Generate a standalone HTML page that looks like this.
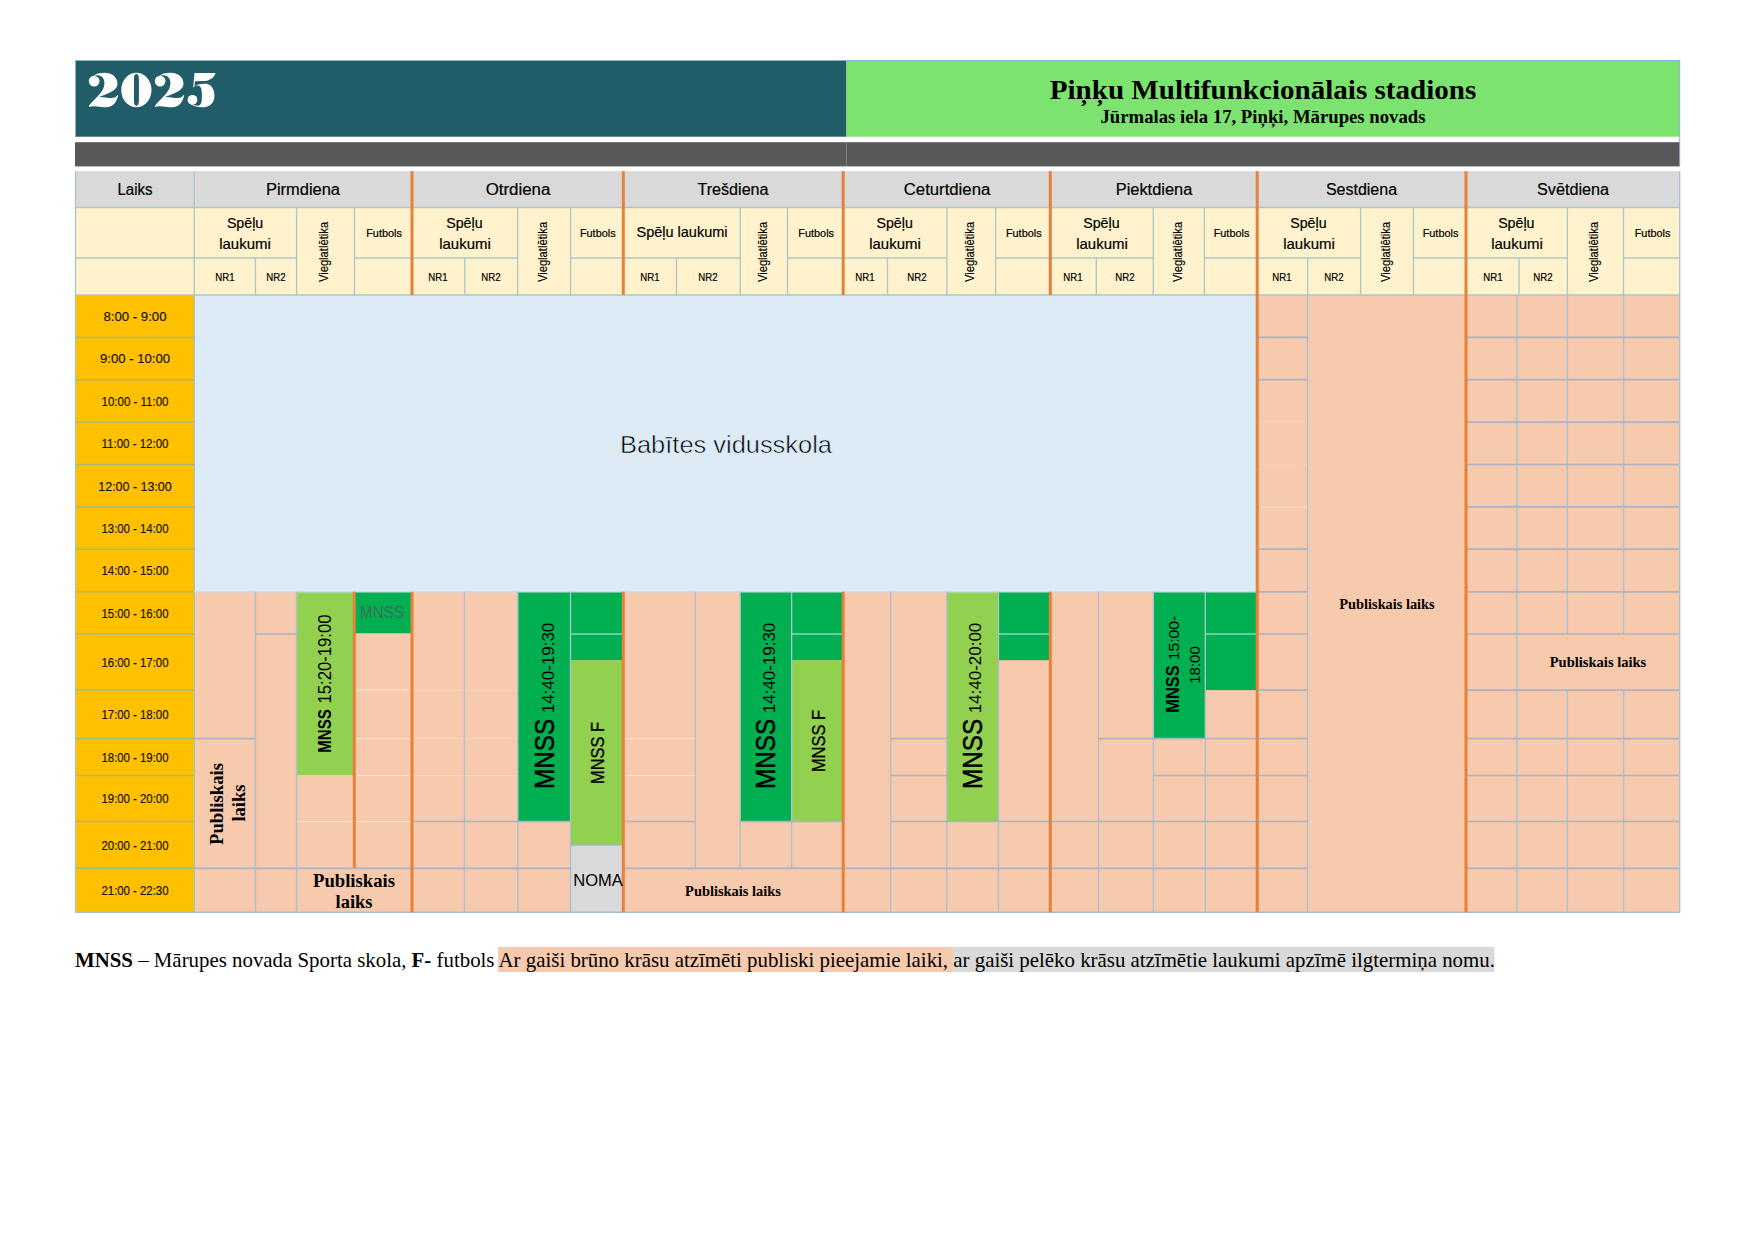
<!DOCTYPE html>
<html lang="lv"><head><meta charset="utf-8"><title>Piņķu Multifunkcionālais stadions 2025</title>
<style>
html,body{margin:0;padding:0;background:#fff;}
body{width:1755px;height:1241px;position:relative;overflow:hidden;font-family:"Liberation Sans",sans-serif;color:#000;}
svg{position:absolute;left:0;top:0;}
.t{position:absolute;white-space:nowrap;line-height:1;transform-origin:50% 50%;}
.s{font-family:"Liberation Serif",serif;font-weight:bold;}
#foot{position:absolute;left:75.3px;top:947.5px;height:25px;line-height:25px;font-family:"Liberation Serif",serif;font-size:21px;white-space:nowrap;transform-origin:0 50%;}
#foot span{padding:0.7px 0;}
</style></head><body>
<svg width="1755" height="1241" viewBox="0 0 1755 1241">
<rect x="75" y="60.5" width="771.5" height="76.2" fill="#215C69"/>
<rect x="846.5" y="60.5" width="833.5" height="76.2" fill="#7CE370"/>
<rect x="75" y="142.2" width="1605" height="24.2" fill="#595959"/>
<rect x="75" y="171.2" width="1605" height="36.3" fill="#D9D9D9"/>
<rect x="75" y="207.5" width="1605" height="87.5" fill="#FFF2CC"/>
<rect x="75" y="295" width="119.3" height="617.2" fill="#FFC000"/>
<rect x="194.3" y="295" width="1062.7" height="296.8" fill="#DDEBF7"/>
<rect x="194.3" y="591.8" width="1062.7" height="320.4" fill="#F7C9AD"/>
<rect x="1257" y="295" width="423" height="617.2" fill="#F7C9AD"/>
<rect x="296.6" y="591.8" width="57.7" height="183.2" fill="#92D050"/>
<rect x="354.3" y="591.8" width="57.7" height="41.5" fill="#00B050"/>
<rect x="517.8" y="591.8" width="52.7" height="229.7" fill="#00B050"/>
<rect x="570.5" y="591.8" width="52.8" height="68.4" fill="#00B050"/>
<rect x="570.5" y="660.2" width="52.8" height="184.8" fill="#92D050"/>
<rect x="570.5" y="845" width="52.8" height="67.2" fill="#D9D9D9"/>
<rect x="740.2" y="591.8" width="51.4" height="229.7" fill="#00B050"/>
<rect x="791.6" y="591.8" width="51.6" height="68.4" fill="#00B050"/>
<rect x="791.6" y="660.2" width="51.6" height="161.3" fill="#92D050"/>
<rect x="946.8" y="591.8" width="51.7" height="229.7" fill="#92D050"/>
<rect x="998.5" y="591.8" width="51.8" height="68.4" fill="#00B050"/>
<rect x="1153.4" y="591.8" width="51.9" height="146.8" fill="#00B050"/>
<rect x="1205.3" y="591.8" width="51.7" height="98.3" fill="#00B050"/>
<line x1="846.5" y1="142.2" x2="846.5" y2="166" stroke="#7f7f7f" stroke-width="1"/>
<line x1="75" y1="207.5" x2="1680" y2="207.5" stroke="#ABC7C8" stroke-width="1.7"/>
<line x1="75" y1="295" x2="1680" y2="295" stroke="#ABC7C8" stroke-width="1.7"/>
<line x1="75" y1="258" x2="194.3" y2="258" stroke="#ABC7C8" stroke-width="1.7"/>
<line x1="194.3" y1="171.2" x2="194.3" y2="295" stroke="#ABC7C8" stroke-width="1.35"/>
<line x1="194.3" y1="258" x2="296.6" y2="258" stroke="#ABC7C8" stroke-width="1.7"/>
<line x1="354.5" y1="258" x2="412" y2="258" stroke="#ABC7C8" stroke-width="1.7"/>
<line x1="255.5" y1="258" x2="255.5" y2="295" stroke="#ABC7C8" stroke-width="1.35"/>
<line x1="296.6" y1="207.5" x2="296.6" y2="295" stroke="#ABC7C8" stroke-width="1.35"/>
<line x1="354.5" y1="207.5" x2="354.5" y2="295" stroke="#ABC7C8" stroke-width="1.35"/>
<line x1="412" y1="258" x2="517.6" y2="258" stroke="#ABC7C8" stroke-width="1.7"/>
<line x1="570.6" y1="258" x2="623.3" y2="258" stroke="#ABC7C8" stroke-width="1.7"/>
<line x1="464.8" y1="258" x2="464.8" y2="295" stroke="#ABC7C8" stroke-width="1.35"/>
<line x1="517.6" y1="207.5" x2="517.6" y2="295" stroke="#ABC7C8" stroke-width="1.35"/>
<line x1="570.6" y1="207.5" x2="570.6" y2="295" stroke="#ABC7C8" stroke-width="1.35"/>
<line x1="623.3" y1="258" x2="740.2" y2="258" stroke="#ABC7C8" stroke-width="1.7"/>
<line x1="787.5" y1="258" x2="843.2" y2="258" stroke="#ABC7C8" stroke-width="1.7"/>
<line x1="676.5" y1="258" x2="676.5" y2="295" stroke="#ABC7C8" stroke-width="1.35"/>
<line x1="740.2" y1="207.5" x2="740.2" y2="295" stroke="#ABC7C8" stroke-width="1.35"/>
<line x1="787.5" y1="207.5" x2="787.5" y2="295" stroke="#ABC7C8" stroke-width="1.35"/>
<line x1="843.2" y1="258" x2="946.9" y2="258" stroke="#ABC7C8" stroke-width="1.7"/>
<line x1="995.6" y1="258" x2="1050.3" y2="258" stroke="#ABC7C8" stroke-width="1.7"/>
<line x1="887.5" y1="258" x2="887.5" y2="295" stroke="#ABC7C8" stroke-width="1.35"/>
<line x1="946.9" y1="207.5" x2="946.9" y2="295" stroke="#ABC7C8" stroke-width="1.35"/>
<line x1="995.6" y1="207.5" x2="995.6" y2="295" stroke="#ABC7C8" stroke-width="1.35"/>
<line x1="1050.3" y1="258" x2="1153.3" y2="258" stroke="#ABC7C8" stroke-width="1.7"/>
<line x1="1204.4" y1="258" x2="1257" y2="258" stroke="#ABC7C8" stroke-width="1.7"/>
<line x1="1096.3" y1="258" x2="1096.3" y2="295" stroke="#ABC7C8" stroke-width="1.35"/>
<line x1="1153.3" y1="207.5" x2="1153.3" y2="295" stroke="#ABC7C8" stroke-width="1.35"/>
<line x1="1204.4" y1="207.5" x2="1204.4" y2="295" stroke="#ABC7C8" stroke-width="1.35"/>
<line x1="1257" y1="258" x2="1360.6" y2="258" stroke="#ABC7C8" stroke-width="1.7"/>
<line x1="1413.4" y1="258" x2="1466" y2="258" stroke="#ABC7C8" stroke-width="1.7"/>
<line x1="1307.6" y1="258" x2="1307.6" y2="295" stroke="#ABC7C8" stroke-width="1.35"/>
<line x1="1360.6" y1="207.5" x2="1360.6" y2="295" stroke="#ABC7C8" stroke-width="1.35"/>
<line x1="1413.4" y1="207.5" x2="1413.4" y2="295" stroke="#ABC7C8" stroke-width="1.35"/>
<line x1="1466" y1="258" x2="1567.4" y2="258" stroke="#ABC7C8" stroke-width="1.7"/>
<line x1="1623.5" y1="258" x2="1680" y2="258" stroke="#ABC7C8" stroke-width="1.7"/>
<line x1="1519" y1="258" x2="1519" y2="295" stroke="#ABC7C8" stroke-width="1.35"/>
<line x1="1567.4" y1="207.5" x2="1567.4" y2="295" stroke="#ABC7C8" stroke-width="1.35"/>
<line x1="1623.5" y1="207.5" x2="1623.5" y2="295" stroke="#ABC7C8" stroke-width="1.35"/>
<line x1="75" y1="337.4" x2="194.3" y2="337.4" stroke="#A6B880" stroke-width="1.5"/>
<line x1="75" y1="379.7" x2="194.3" y2="379.7" stroke="#A6B880" stroke-width="1.5"/>
<line x1="75" y1="422.1" x2="194.3" y2="422.1" stroke="#A6B880" stroke-width="1.5"/>
<line x1="75" y1="464.5" x2="194.3" y2="464.5" stroke="#A6B880" stroke-width="1.5"/>
<line x1="75" y1="506.9" x2="194.3" y2="506.9" stroke="#A6B880" stroke-width="1.5"/>
<line x1="75" y1="549.2" x2="194.3" y2="549.2" stroke="#A6B880" stroke-width="1.5"/>
<line x1="75" y1="591.8" x2="194.3" y2="591.8" stroke="#A6B880" stroke-width="1.5"/>
<line x1="75" y1="634" x2="194.3" y2="634" stroke="#A6B880" stroke-width="1.5"/>
<line x1="75" y1="690.1" x2="194.3" y2="690.1" stroke="#A6B880" stroke-width="1.5"/>
<line x1="75" y1="738.6" x2="194.3" y2="738.6" stroke="#A6B880" stroke-width="1.5"/>
<line x1="75" y1="775.5" x2="194.3" y2="775.5" stroke="#A6B880" stroke-width="1.5"/>
<line x1="75" y1="821.5" x2="194.3" y2="821.5" stroke="#A6B880" stroke-width="1.5"/>
<line x1="75" y1="868.3" x2="194.3" y2="868.3" stroke="#A6B880" stroke-width="1.5"/>
<line x1="194.3" y1="295" x2="194.3" y2="912.2" stroke="#A6C3AE" stroke-width="1.3"/>
<line x1="194.3" y1="591.8" x2="1257" y2="591.8" stroke="#C9DEF0" stroke-width="1.5"/>
<line x1="255.5" y1="591.8" x2="255.5" y2="912.2" stroke="#A9C1D3" stroke-width="1.35"/>
<line x1="296.6" y1="591.8" x2="296.6" y2="912.2" stroke="#A9C1D3" stroke-width="1.35"/>
<line x1="194.3" y1="738.6" x2="255.5" y2="738.6" stroke="#A9B4C8" stroke-width="1.7"/>
<line x1="255.5" y1="634" x2="296.6" y2="634" stroke="#A9B4C8" stroke-width="1.7"/>
<line x1="194.3" y1="868.3" x2="412" y2="868.3" stroke="#A9B4C8" stroke-width="1.7"/>
<line x1="296.6" y1="821.5" x2="412" y2="821.5" stroke="rgba(255,255,255,0.45)" stroke-width="1.2"/>
<line x1="354.3" y1="690.1" x2="412" y2="690.1" stroke="rgba(255,255,255,0.45)" stroke-width="1.2"/>
<line x1="354.3" y1="738.6" x2="412" y2="738.6" stroke="rgba(255,255,255,0.45)" stroke-width="1.2"/>
<line x1="354.3" y1="775.5" x2="412" y2="775.5" stroke="rgba(255,255,255,0.45)" stroke-width="1.2"/>
<line x1="464.4" y1="591.8" x2="464.4" y2="912.2" stroke="#A9C1D3" stroke-width="1.35"/>
<line x1="517.8" y1="591.8" x2="517.8" y2="912.2" stroke="#A9C1D3" stroke-width="1.35"/>
<line x1="570.5" y1="591.8" x2="570.5" y2="912.2" stroke="#A9C1D3" stroke-width="1.35"/>
<line x1="412" y1="821.5" x2="570.5" y2="821.5" stroke="#A9B4C8" stroke-width="1.7"/>
<line x1="570.5" y1="634" x2="623.3" y2="634" stroke="#8ED4C6" stroke-width="1.6"/>
<line x1="570.5" y1="845" x2="623.3" y2="845" stroke="#A9B4C8" stroke-width="1.7"/>
<line x1="412" y1="868.3" x2="570.5" y2="868.3" stroke="#A9B4C8" stroke-width="1.7"/>
<line x1="412" y1="690.1" x2="517.8" y2="690.1" stroke="rgba(255,255,255,0.22)" stroke-width="1"/>
<line x1="412" y1="738.6" x2="517.8" y2="738.6" stroke="rgba(255,255,255,0.22)" stroke-width="1"/>
<line x1="412" y1="775.5" x2="517.8" y2="775.5" stroke="rgba(255,255,255,0.22)" stroke-width="1"/>
<line x1="695.3" y1="591.8" x2="695.3" y2="868.3" stroke="#A9C1D3" stroke-width="1.35"/>
<line x1="740.2" y1="591.8" x2="740.2" y2="868.3" stroke="#A9C1D3" stroke-width="1.35"/>
<line x1="791.6" y1="591.8" x2="791.6" y2="868.3" stroke="#A9C1D3" stroke-width="1.35"/>
<line x1="623.3" y1="821.5" x2="695.3" y2="821.5" stroke="#A9B4C8" stroke-width="1.7"/>
<line x1="740.2" y1="821.5" x2="843.2" y2="821.5" stroke="#A9B4C8" stroke-width="1.7"/>
<line x1="791.6" y1="634" x2="843.2" y2="634" stroke="#8ED4C6" stroke-width="1.6"/>
<line x1="623.3" y1="868.3" x2="843.2" y2="868.3" stroke="#A9B4C8" stroke-width="1.7"/>
<line x1="623.3" y1="738.6" x2="695.3" y2="738.6" stroke="rgba(255,255,255,0.45)" stroke-width="1.2"/>
<line x1="623.3" y1="775.5" x2="695.3" y2="775.5" stroke="rgba(255,255,255,0.45)" stroke-width="1.2"/>
<line x1="890.7" y1="591.8" x2="890.7" y2="912.2" stroke="#A9C1D3" stroke-width="1.35"/>
<line x1="946.8" y1="591.8" x2="946.8" y2="912.2" stroke="#A9C1D3" stroke-width="1.35"/>
<line x1="998.5" y1="591.8" x2="998.5" y2="912.2" stroke="#A9C1D3" stroke-width="1.35"/>
<line x1="890.7" y1="738.6" x2="946.8" y2="738.6" stroke="#A9B4C8" stroke-width="1.7"/>
<line x1="890.7" y1="775.5" x2="946.8" y2="775.5" stroke="#A9B4C8" stroke-width="1.7"/>
<line x1="890.7" y1="821.5" x2="1050.3" y2="821.5" stroke="#A9B4C8" stroke-width="1.7"/>
<line x1="998.5" y1="634" x2="1050.3" y2="634" stroke="#8ED4C6" stroke-width="1.6"/>
<line x1="843.2" y1="868.3" x2="1050.3" y2="868.3" stroke="#A9B4C8" stroke-width="1.7"/>
<line x1="1098.5" y1="591.8" x2="1098.5" y2="912.2" stroke="#A9C1D3" stroke-width="1.35"/>
<line x1="1153.4" y1="591.8" x2="1153.4" y2="912.2" stroke="#A9C1D3" stroke-width="1.35"/>
<line x1="1205.3" y1="591.8" x2="1205.3" y2="912.2" stroke="#A9C1D3" stroke-width="1.35"/>
<line x1="1098.5" y1="738.6" x2="1257" y2="738.6" stroke="#A9B4C8" stroke-width="1.7"/>
<line x1="1153.4" y1="775.5" x2="1257" y2="775.5" stroke="#A9B4C8" stroke-width="1.7"/>
<line x1="1050.3" y1="821.5" x2="1257" y2="821.5" stroke="#A9B4C8" stroke-width="1.7"/>
<line x1="1205.3" y1="634" x2="1257" y2="634" stroke="#8ED4C6" stroke-width="1.6"/>
<line x1="1050.3" y1="868.3" x2="1257" y2="868.3" stroke="#A9B4C8" stroke-width="1.7"/>
<line x1="1307.6" y1="295" x2="1307.6" y2="912.2" stroke="#A9C1D3" stroke-width="1.35"/>
<line x1="1257" y1="337.4" x2="1307.6" y2="337.4" stroke="#A9B4C8" stroke-width="1.7"/>
<line x1="1257" y1="379.7" x2="1307.6" y2="379.7" stroke="#A9B4C8" stroke-width="1.7"/>
<line x1="1257" y1="549.2" x2="1307.6" y2="549.2" stroke="#A9B4C8" stroke-width="1.7"/>
<line x1="1257" y1="591.8" x2="1307.6" y2="591.8" stroke="#A9B4C8" stroke-width="1.7"/>
<line x1="1257" y1="634" x2="1307.6" y2="634" stroke="#A9B4C8" stroke-width="1.7"/>
<line x1="1257" y1="690.1" x2="1307.6" y2="690.1" stroke="#A9B4C8" stroke-width="1.7"/>
<line x1="1257" y1="738.6" x2="1307.6" y2="738.6" stroke="#A9B4C8" stroke-width="1.7"/>
<line x1="1257" y1="775.5" x2="1307.6" y2="775.5" stroke="#A9B4C8" stroke-width="1.7"/>
<line x1="1257" y1="821.5" x2="1307.6" y2="821.5" stroke="#A9B4C8" stroke-width="1.7"/>
<line x1="1257" y1="868.3" x2="1307.6" y2="868.3" stroke="#A9B4C8" stroke-width="1.7"/>
<line x1="1257" y1="506.9" x2="1307.6" y2="506.9" stroke="rgba(255,255,255,0.35)" stroke-width="1"/>
<line x1="1257" y1="422.1" x2="1307.6" y2="422.1" stroke="rgba(255,255,255,0.15)" stroke-width="1"/>
<line x1="1257" y1="464.5" x2="1307.6" y2="464.5" stroke="rgba(255,255,255,0.15)" stroke-width="1"/>
<line x1="1516.8" y1="295" x2="1516.8" y2="912.2" stroke="#A9C1D3" stroke-width="1.35"/>
<line x1="1567.4" y1="295" x2="1567.4" y2="634" stroke="#A9C1D3" stroke-width="1.35"/>
<line x1="1567.4" y1="690.1" x2="1567.4" y2="912.2" stroke="#A9C1D3" stroke-width="1.35"/>
<line x1="1623.6" y1="295" x2="1623.6" y2="634" stroke="#A9C1D3" stroke-width="1.35"/>
<line x1="1623.6" y1="690.1" x2="1623.6" y2="912.2" stroke="#A9C1D3" stroke-width="1.35"/>
<line x1="1466" y1="337.4" x2="1680" y2="337.4" stroke="#A9B4C8" stroke-width="1.7"/>
<line x1="1466" y1="379.7" x2="1680" y2="379.7" stroke="#A9B4C8" stroke-width="1.7"/>
<line x1="1466" y1="422.1" x2="1680" y2="422.1" stroke="#A9B4C8" stroke-width="1.7"/>
<line x1="1466" y1="464.5" x2="1680" y2="464.5" stroke="#A9B4C8" stroke-width="1.7"/>
<line x1="1466" y1="506.9" x2="1680" y2="506.9" stroke="#A9B4C8" stroke-width="1.7"/>
<line x1="1466" y1="549.2" x2="1680" y2="549.2" stroke="#A9B4C8" stroke-width="1.7"/>
<line x1="1466" y1="591.8" x2="1680" y2="591.8" stroke="#A9B4C8" stroke-width="1.7"/>
<line x1="1466" y1="634" x2="1680" y2="634" stroke="#A9B4C8" stroke-width="1.7"/>
<line x1="1466" y1="690.1" x2="1680" y2="690.1" stroke="#A9B4C8" stroke-width="1.7"/>
<line x1="1466" y1="738.6" x2="1680" y2="738.6" stroke="#A9B4C8" stroke-width="1.7"/>
<line x1="1466" y1="775.5" x2="1680" y2="775.5" stroke="#A9B4C8" stroke-width="1.7"/>
<line x1="1466" y1="821.5" x2="1680" y2="821.5" stroke="#A9B4C8" stroke-width="1.7"/>
<line x1="1466" y1="868.3" x2="1680" y2="868.3" stroke="#A9B4C8" stroke-width="1.7"/>
<line x1="75.5" y1="171.2" x2="75.5" y2="912.2" stroke="#ABC7C8" stroke-width="1.35"/>
<line x1="1679.7" y1="171.2" x2="1679.7" y2="912.2" stroke="#A9C1D3" stroke-width="1.35"/>
<line x1="75" y1="912.2" x2="1680" y2="912.2" stroke="#A9C0D4" stroke-width="1.6"/>
<line x1="75" y1="60.5" x2="1680" y2="60.5" stroke="#8FB6CF" stroke-width="1"/>
<line x1="75.5" y1="60.5" x2="75.5" y2="136.7" stroke="#8FB6CF" stroke-width="1"/>
<line x1="1679.7" y1="60.5" x2="1679.7" y2="166" stroke="#8FB6CF" stroke-width="1"/>
<line x1="412" y1="171.2" x2="412" y2="295" stroke="#E6803A" stroke-width="3"/>
<line x1="412" y1="591.8" x2="412" y2="912.2" stroke="#E6803A" stroke-width="3"/>
<line x1="623.3" y1="171.2" x2="623.3" y2="295" stroke="#E6803A" stroke-width="3"/>
<line x1="623.3" y1="591.8" x2="623.3" y2="912.2" stroke="#E6803A" stroke-width="3"/>
<line x1="843.2" y1="171.2" x2="843.2" y2="295" stroke="#E6803A" stroke-width="3"/>
<line x1="843.2" y1="591.8" x2="843.2" y2="912.2" stroke="#E6803A" stroke-width="3"/>
<line x1="1050.3" y1="171.2" x2="1050.3" y2="295" stroke="#E6803A" stroke-width="3"/>
<line x1="1050.3" y1="591.8" x2="1050.3" y2="912.2" stroke="#E6803A" stroke-width="3"/>
<line x1="1257.2" y1="171.2" x2="1257.2" y2="912.2" stroke="#E6803A" stroke-width="3"/>
<line x1="1466" y1="171.2" x2="1466" y2="912.2" stroke="#E6803A" stroke-width="3"/>
<line x1="354.3" y1="591.8" x2="354.3" y2="868.3" stroke="#E6803A" stroke-width="3"/>
<g fill="#fff"><g transform="translate(86,68) scale(0.038745)"><path d="M75,975 C250,760 470,620 475,400 C478,290 420,200 300,190 C260,188 220,200 195,225 L180,212 C240,150 360,122 470,122 C680,122 812,240 812,400 C812,540 700,620 330,748 C420,735 560,775 650,775 C740,775 790,740 812,695 L832,705 C800,850 720,1012 540,1012 C400,1012 300,985 200,985 C140,985 110,1000 82,1008 Z"/><circle cx="210" cy="338" r="138"/><path fill-rule="evenodd" d="M1690,567 A390,445 0 1 1 910,567 A390,445 0 1 1 1690,567 Z M1302,158 C1345,158 1366,200 1366,300 L1366,835 C1366,935 1345,977 1302,977 C1259,977 1238,935 1238,835 L1238,300 C1238,200 1259,158 1302,158 Z"/></g><g transform="translate(152,68) scale(0.038745)"><path d="M75,975 C250,760 470,620 475,400 C478,290 420,200 300,190 C260,188 220,200 195,225 L180,212 C240,150 360,122 470,122 C680,122 812,240 812,400 C812,540 700,620 330,748 C420,735 560,775 650,775 C740,775 790,740 812,695 L832,705 C800,850 720,1012 540,1012 C400,1012 300,985 200,985 C140,985 110,1000 82,1008 Z"/><circle cx="210" cy="338" r="138"/><path d="M1100,128 L1638,128 C1610,240 1510,332 1310,338 L1105,342 Z M1098,128 L1128,128 L1094,478 L1062,494 Z M1062,494 C1150,420 1300,398 1400,408 C1540,423 1612,560 1612,720 C1612,900 1480,1014 1300,1014 C1180,1014 1060,990 985,925 L1050,932 C1100,975 1180,985 1230,960 C1280,930 1288,850 1288,700 C1288,560 1270,470 1200,455 C1150,445 1110,462 1075,500 Z"/><circle cx="1045" cy="820" r="126"/></g></g>
</svg>
<div class="t s" style="left:151.7px;top:89.2px;font-size:51px;transform:translate(-50%,-50%) scaleX(1.2490);color:transparent;">2025</div>
<div class="t s" style="left:1263.41px;top:90.2px;font-size:26.6px;transform:translate(-50%,-50%) scaleX(1.0931);">Piņķu Multifunkcionālais stadions</div>
<div class="t s" style="left:1262.8px;top:116.4px;font-size:19px;transform:translate(-50%,-50%) scaleX(0.9852);">Jūrmalas iela 17, Piņķi, Mārupes novads</div>
<div class="t" style="left:135.2px;top:190px;font-size:16px;transform:translate(-50%,-50%) scaleX(0.9399);-webkit-text-stroke:0.2px #000;">Laiks</div>
<div class="t" style="left:302.94px;top:190px;font-size:16px;transform:translate(-50%,-50%) scaleX(1.0271);-webkit-text-stroke:0.2px #000;">Pirmdiena</div>
<div class="t" style="left:517.65px;top:190px;font-size:16px;transform:translate(-50%,-50%) scaleX(1.0542);-webkit-text-stroke:0.2px #000;">Otrdiena</div>
<div class="t" style="left:733.24px;top:190px;font-size:16px;transform:translate(-50%,-50%) scaleX(1.0060);-webkit-text-stroke:0.2px #000;">Trešdiena</div>
<div class="t" style="left:946.74px;top:190px;font-size:16px;transform:translate(-50%,-50%) scaleX(1.0455);-webkit-text-stroke:0.2px #000;">Ceturtdiena</div>
<div class="t" style="left:1153.64px;top:190px;font-size:16px;transform:translate(-50%,-50%) scaleX(1.0236);-webkit-text-stroke:0.2px #000;">Piektdiena</div>
<div class="t" style="left:1361.49px;top:190px;font-size:16px;transform:translate(-50%,-50%);-webkit-text-stroke:0.2px #000;">Sestdiena</div>
<div class="t" style="left:1572.99px;top:190px;font-size:16px;transform:translate(-50%,-50%) scaleX(1.0115);-webkit-text-stroke:0.2px #000;">Svētdiena</div>
<div class="t" style="left:245.05px;top:222.6px;font-size:14.2px;transform:translate(-50%,-50%);-webkit-text-stroke:0.2px #000;">Spēļu</div>
<div class="t" style="left:245.45px;top:243.9px;font-size:14.2px;transform:translate(-50%,-50%) scaleX(1.0545);-webkit-text-stroke:0.2px #000;">laukumi</div>
<div class="t" style="left:384.05px;top:233px;font-size:10.9px;transform:translate(-50%,-50%);-webkit-text-stroke:0.2px #000;">Futbols</div>
<div class="t" style="left:224.9px;top:278px;font-size:11.4px;transform:translate(-50%,-50%) scaleX(0.8461);-webkit-text-stroke:0.2px #000;">NR1</div>
<div class="t" style="left:276.05px;top:278px;font-size:11.4px;transform:translate(-50%,-50%) scaleX(0.8461);-webkit-text-stroke:0.2px #000;">NR2</div>
<div class="t" style="left:325.45px;top:251.61px;font-size:11.9px;transform:translate(-50%,-50%) rotate(-90deg) scaleX(0.9427);-webkit-text-stroke:0.15px #000;">Vieglatlētika</div>
<div class="t" style="left:464.4px;top:222.6px;font-size:14.2px;transform:translate(-50%,-50%);-webkit-text-stroke:0.2px #000;">Spēļu</div>
<div class="t" style="left:464.8px;top:243.9px;font-size:14.2px;transform:translate(-50%,-50%) scaleX(1.0545);-webkit-text-stroke:0.2px #000;">laukumi</div>
<div class="t" style="left:597.75px;top:233px;font-size:10.9px;transform:translate(-50%,-50%);-webkit-text-stroke:0.2px #000;">Futbols</div>
<div class="t" style="left:438.4px;top:278px;font-size:11.4px;transform:translate(-50%,-50%) scaleX(0.8461);-webkit-text-stroke:0.2px #000;">NR1</div>
<div class="t" style="left:491.2px;top:278px;font-size:11.4px;transform:translate(-50%,-50%) scaleX(0.8461);-webkit-text-stroke:0.2px #000;">NR2</div>
<div class="t" style="left:544px;top:251.61px;font-size:11.9px;transform:translate(-50%,-50%) rotate(-90deg) scaleX(0.9427);-webkit-text-stroke:0.15px #000;">Vieglatlētika</div>
<div class="t" style="left:681.75px;top:232.3px;font-size:14.2px;transform:translate(-50%,-50%) scaleX(1.0203);-webkit-text-stroke:0.2px #000;">Spēļu laukumi</div>
<div class="t" style="left:816.15px;top:233px;font-size:10.9px;transform:translate(-50%,-50%);-webkit-text-stroke:0.2px #000;">Futbols</div>
<div class="t" style="left:649.9px;top:278px;font-size:11.4px;transform:translate(-50%,-50%) scaleX(0.8461);-webkit-text-stroke:0.2px #000;">NR1</div>
<div class="t" style="left:708.35px;top:278px;font-size:11.4px;transform:translate(-50%,-50%) scaleX(0.8461);-webkit-text-stroke:0.2px #000;">NR2</div>
<div class="t" style="left:763.75px;top:251.61px;font-size:11.9px;transform:translate(-50%,-50%) rotate(-90deg) scaleX(0.9427);-webkit-text-stroke:0.15px #000;">Vieglatlētika</div>
<div class="t" style="left:894.65px;top:222.6px;font-size:14.2px;transform:translate(-50%,-50%);-webkit-text-stroke:0.2px #000;">Spēļu</div>
<div class="t" style="left:895.05px;top:243.9px;font-size:14.2px;transform:translate(-50%,-50%) scaleX(1.0545);-webkit-text-stroke:0.2px #000;">laukumi</div>
<div class="t" style="left:1023.75px;top:233px;font-size:10.9px;transform:translate(-50%,-50%);-webkit-text-stroke:0.2px #000;">Futbols</div>
<div class="t" style="left:865.35px;top:278px;font-size:11.4px;transform:translate(-50%,-50%) scaleX(0.8461);-webkit-text-stroke:0.2px #000;">NR1</div>
<div class="t" style="left:917.2px;top:278px;font-size:11.4px;transform:translate(-50%,-50%) scaleX(0.8461);-webkit-text-stroke:0.2px #000;">NR2</div>
<div class="t" style="left:971.15px;top:251.61px;font-size:11.9px;transform:translate(-50%,-50%) rotate(-90deg) scaleX(0.9427);-webkit-text-stroke:0.15px #000;">Vieglatlētika</div>
<div class="t" style="left:1101.4px;top:222.6px;font-size:14.2px;transform:translate(-50%,-50%);-webkit-text-stroke:0.2px #000;">Spēļu</div>
<div class="t" style="left:1101.8px;top:243.9px;font-size:14.2px;transform:translate(-50%,-50%) scaleX(1.0545);-webkit-text-stroke:0.2px #000;">laukumi</div>
<div class="t" style="left:1231.5px;top:233px;font-size:10.9px;transform:translate(-50%,-50%);-webkit-text-stroke:0.2px #000;">Futbols</div>
<div class="t" style="left:1073.3px;top:278px;font-size:11.4px;transform:translate(-50%,-50%) scaleX(0.8461);-webkit-text-stroke:0.2px #000;">NR1</div>
<div class="t" style="left:1124.8px;top:278px;font-size:11.4px;transform:translate(-50%,-50%) scaleX(0.8461);-webkit-text-stroke:0.2px #000;">NR2</div>
<div class="t" style="left:1178.75px;top:251.61px;font-size:11.9px;transform:translate(-50%,-50%) rotate(-90deg) scaleX(0.9427);-webkit-text-stroke:0.15px #000;">Vieglatlētika</div>
<div class="t" style="left:1308.4px;top:222.6px;font-size:14.2px;transform:translate(-50%,-50%);-webkit-text-stroke:0.2px #000;">Spēļu</div>
<div class="t" style="left:1308.8px;top:243.9px;font-size:14.2px;transform:translate(-50%,-50%) scaleX(1.0545);-webkit-text-stroke:0.2px #000;">laukumi</div>
<div class="t" style="left:1440.5px;top:233px;font-size:10.9px;transform:translate(-50%,-50%);-webkit-text-stroke:0.2px #000;">Futbols</div>
<div class="t" style="left:1282.3px;top:278px;font-size:11.4px;transform:translate(-50%,-50%) scaleX(0.8461);-webkit-text-stroke:0.2px #000;">NR1</div>
<div class="t" style="left:1334.1px;top:278px;font-size:11.4px;transform:translate(-50%,-50%) scaleX(0.8461);-webkit-text-stroke:0.2px #000;">NR2</div>
<div class="t" style="left:1386.9px;top:251.61px;font-size:11.9px;transform:translate(-50%,-50%) rotate(-90deg) scaleX(0.9427);-webkit-text-stroke:0.15px #000;">Vieglatlētika</div>
<div class="t" style="left:1516.3px;top:222.6px;font-size:14.2px;transform:translate(-50%,-50%);-webkit-text-stroke:0.2px #000;">Spēļu</div>
<div class="t" style="left:1516.7px;top:243.9px;font-size:14.2px;transform:translate(-50%,-50%) scaleX(1.0545);-webkit-text-stroke:0.2px #000;">laukumi</div>
<div class="t" style="left:1652.55px;top:233px;font-size:10.9px;transform:translate(-50%,-50%);-webkit-text-stroke:0.2px #000;">Futbols</div>
<div class="t" style="left:1492.5px;top:278px;font-size:11.4px;transform:translate(-50%,-50%) scaleX(0.8461);-webkit-text-stroke:0.2px #000;">NR1</div>
<div class="t" style="left:1543.2px;top:278px;font-size:11.4px;transform:translate(-50%,-50%) scaleX(0.8461);-webkit-text-stroke:0.2px #000;">NR2</div>
<div class="t" style="left:1595.35px;top:251.61px;font-size:11.9px;transform:translate(-50%,-50%) rotate(-90deg) scaleX(0.9427);-webkit-text-stroke:0.15px #000;">Vieglatlētika</div>
<div class="t" style="left:134.7px;top:317px;font-size:12.8px;transform:translate(-50%,-50%) scaleX(1.0295);color:#111;-webkit-text-stroke:0.15px #111;">8:00 - 9:00</div>
<div class="t" style="left:134.7px;top:359.35px;font-size:12.8px;transform:translate(-50%,-50%) scaleX(1.0247);color:#111;-webkit-text-stroke:0.15px #111;">9:00 - 10:00</div>
<div class="t" style="left:134.7px;top:401.7px;font-size:12px;transform:translate(-50%,-50%) scaleX(0.9595);color:#111;-webkit-text-stroke:0.15px #111;">10:00 - 11:00</div>
<div class="t" style="left:134.7px;top:444.1px;font-size:12px;transform:translate(-50%,-50%) scaleX(0.9595);color:#111;-webkit-text-stroke:0.15px #111;">11:00 - 12:00</div>
<div class="t" style="left:134.7px;top:486.5px;font-size:12.8px;transform:translate(-50%,-50%) scaleX(0.9742);color:#111;-webkit-text-stroke:0.15px #111;">12:00 - 13:00</div>
<div class="t" style="left:134.7px;top:528.85px;font-size:12px;transform:translate(-50%,-50%) scaleX(0.9473);color:#111;-webkit-text-stroke:0.15px #111;">13:00 - 14:00</div>
<div class="t" style="left:134.7px;top:571.3px;font-size:12px;transform:translate(-50%,-50%) scaleX(0.9473);color:#111;-webkit-text-stroke:0.15px #111;">14:00 - 15:00</div>
<div class="t" style="left:134.7px;top:613.7px;font-size:12px;transform:translate(-50%,-50%) scaleX(0.9473);color:#111;-webkit-text-stroke:0.15px #111;">15:00 - 16:00</div>
<div class="t" style="left:134.7px;top:662.85px;font-size:12px;transform:translate(-50%,-50%) scaleX(0.9473);color:#111;-webkit-text-stroke:0.15px #111;">16:00 - 17:00</div>
<div class="t" style="left:134.7px;top:715.15px;font-size:12px;transform:translate(-50%,-50%) scaleX(0.9473);color:#111;-webkit-text-stroke:0.15px #111;">17:00 - 18:00</div>
<div class="t" style="left:134.7px;top:757.85px;font-size:12px;transform:translate(-50%,-50%) scaleX(0.9473);color:#111;-webkit-text-stroke:0.15px #111;">18:00 - 19:00</div>
<div class="t" style="left:134.7px;top:799.3px;font-size:12px;transform:translate(-50%,-50%) scaleX(0.9473);color:#111;-webkit-text-stroke:0.15px #111;">19:00 - 20:00</div>
<div class="t" style="left:134.7px;top:845.7px;font-size:12px;transform:translate(-50%,-50%) scaleX(0.9473);color:#111;-webkit-text-stroke:0.15px #111;">20:00 - 21:00</div>
<div class="t" style="left:134.7px;top:891.05px;font-size:12px;transform:translate(-50%,-50%) scaleX(0.9473);color:#111;-webkit-text-stroke:0.15px #111;">21:00 - 22:30</div>
<div class="t" style="left:725.89px;top:445.3px;font-size:24.8px;transform:translate(-50%,-50%) scaleX(1.0251);-webkit-text-stroke:0.55px #DDEBF7;">Babītes vidusskola</div>
<div class="t" style="left:324.8px;top:731.2px;font-size:18.6px;transform:translate(-50%,-50%) rotate(-90deg) scaleX(0.8077);font-weight:bold;">MNSS</div>
<div class="t" style="left:324.8px;top:658.8px;font-size:18.6px;transform:translate(-50%,-50%) rotate(-90deg) scaleX(0.8964);">15:20-19:00</div>
<div class="t" style="left:382.3px;top:612.9px;font-size:16.8px;transform:translate(-50%,-50%) scaleX(0.9024);color:#3C6E55;">MNSS</div>
<div class="t" style="left:545.05px;top:754.2px;font-size:27px;transform:translate(-50%,-50%) rotate(-90deg) scaleX(0.9000);-webkit-text-stroke:0.5px #000;">MNSS</div>
<div class="t" style="left:548.6px;top:668px;font-size:17.2px;transform:translate(-50%,-50%) rotate(-90deg) scaleX(0.9879);">14:40-19:30</div>
<div class="t" style="left:766.35px;top:754.2px;font-size:27px;transform:translate(-50%,-50%) rotate(-90deg) scaleX(0.9000);-webkit-text-stroke:0.5px #000;">MNSS</div>
<div class="t" style="left:769.9px;top:668px;font-size:17.2px;transform:translate(-50%,-50%) rotate(-90deg) scaleX(0.9879);">14:40-19:30</div>
<div class="t" style="left:972.75px;top:754.2px;font-size:27px;transform:translate(-50%,-50%) rotate(-90deg) scaleX(0.9000);-webkit-text-stroke:0.5px #000;">MNSS</div>
<div class="t" style="left:976.3px;top:668px;font-size:17.2px;transform:translate(-50%,-50%) rotate(-90deg) scaleX(0.9879);">14:40-20:00</div>
<div class="t" style="left:597.6px;top:752.5px;font-size:18.6px;transform:translate(-50%,-50%) rotate(-90deg) scaleX(0.8809);-webkit-text-stroke:0.3px #000;">MNSS F</div>
<div class="t" style="left:818.6px;top:740.7px;font-size:18.6px;transform:translate(-50%,-50%) rotate(-90deg) scaleX(0.8851);-webkit-text-stroke:0.3px #000;">MNSS F</div>
<div class="t" style="left:1172.5px;top:689.1px;font-size:18.6px;transform:translate(-50%,-50%) rotate(-90deg) scaleX(0.8858);font-weight:bold;">MNSS</div>
<div class="t" style="left:1174px;top:637.9px;font-size:14.6px;transform:translate(-50%,-50%) rotate(-90deg) scaleX(1.0775);">15:00-</div>
<div class="t" style="left:1194.2px;top:665.2px;font-size:15px;transform:translate(-50%,-50%) rotate(-90deg);">18:00</div>
<div class="t" style="left:597.5px;top:879.8px;font-size:16.4px;transform:translate(-50%,-50%) scaleX(1.0081);">NOMA</div>
<div class="t s" style="left:216.9px;top:803.5px;font-size:18px;transform:translate(-50%,-50%) rotate(-90deg) scaleX(1.0375);">Publiskais</div>
<div class="t s" style="left:239px;top:803.4px;font-size:18px;transform:translate(-50%,-50%) rotate(-90deg) scaleX(1.0300);">laiks</div>
<div class="t s" style="left:354.2px;top:881.2px;font-size:18px;transform:translate(-50%,-50%) scaleX(1.0375);">Publiskais</div>
<div class="t s" style="left:353.7px;top:902px;font-size:18px;transform:translate(-50%,-50%) scaleX(1.0245);">laiks</div>
<div class="t s" style="left:733.3px;top:891.4px;font-size:15px;transform:translate(-50%,-50%) scaleX(0.9616);">Publiskais laiks</div>
<div class="t s" style="left:1386.9px;top:604.1px;font-size:15px;transform:translate(-50%,-50%) scaleX(0.9565);">Publiskais laiks</div>
<div class="t s" style="left:1598.4px;top:662.2px;font-size:15px;transform:translate(-50%,-50%) scaleX(0.9686);">Publiskais laiks</div>
<div id="foot" style="transform:scaleX(0.9933)"><span><b>MNSS</b> – Mārupes novada Sporta skola, <b>F-</b> futbols </span><span style="background:#F7C9AD">Ar gaiši brūno krāsu atzīmēti publiski pieejamie laiki, </span><span style="background:#D9D9D9">ar gaiši pelēko krāsu atzīmētie laukumi apzīmē ilgtermiņa nomu.</span></div>
</body></html>
